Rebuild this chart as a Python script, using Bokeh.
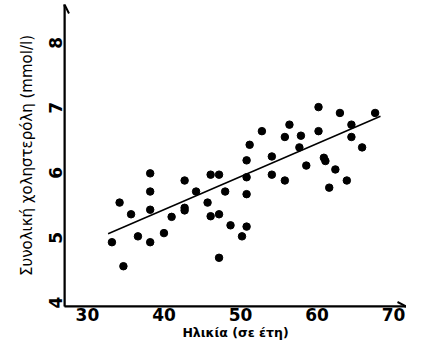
import math
from bokeh.plotting import figure
from bokeh.models import Arrow, OpenHead, Range1d, FixedTicker
from bokeh.embed import file_html
from bokeh.resources import INLINE

# Data
age = [33.2, 34.2, 34.7, 35.7, 36.6, 38.2, 38.2, 38.2, 38.2, 40.0,
       41.0, 42.7, 42.7, 42.7, 44.2, 45.7, 46.1, 46.1, 47.2, 47.2,
       47.2, 48.0, 48.7, 50.2, 50.8, 50.8, 50.8, 50.8, 51.2, 52.8,
       54.1, 54.1, 55.8, 55.8, 56.4, 57.9, 57.7, 58.6, 60.2, 60.2,
       60.9, 61.1, 61.6, 62.4, 63.0, 63.9, 64.5, 64.5, 65.9, 67.6]
chol = [4.84, 5.45, 4.47, 5.27, 4.93, 5.90, 5.62, 5.34, 4.84, 4.98,
        5.23, 5.79, 5.37, 5.33, 5.62, 5.45, 5.88, 5.24, 5.88, 5.27,
        4.60, 5.62, 5.10, 4.93, 5.08, 5.58, 5.84, 6.10, 6.34, 6.55,
        6.16, 5.88, 6.46, 5.79, 6.65, 6.48, 6.30, 6.02, 6.92, 6.55,
        6.14, 6.09, 5.68, 5.96, 6.83, 5.79, 6.65, 6.46, 6.30, 6.83]
trend_x = [32.7, 68.3]
trend_y = [4.97, 6.78]
x_ticks = [30, 40, 50, 60, 70]
y_ticks = [4, 5, 6, 7, 8]

x_lo, x_hi = 27.0, 71.7
y_lo, y_hi = 3.85, 8.5

p = figure(width=406, height=342, output_backend="svg", toolbar_location=None,
           x_range=Range1d(x_lo, x_hi), y_range=Range1d(y_lo, y_hi),
           min_border_left=64, min_border_right=0, min_border_top=4,
           min_border_bottom=0)
p.outline_line_color = None
p.grid.visible = False
p.background_fill_color = "white"
p.border_fill_color = "white"

for ax in (p.xaxis[0], p.yaxis[0]):
    ax.axis_line_width = 2
    ax.axis_line_color = "black"
    ax.major_tick_line_color = None
    ax.minor_tick_line_color = None
    ax.major_tick_out = 0
    ax.minor_tick_out = 0
    ax.major_label_text_font = "DejaVu Sans"
    ax.major_label_text_font_style = "bold"
    ax.major_label_text_font_size = "17px"
    ax.major_label_text_color = "black"
    ax.major_label_text_line_height = 0.9
    ax.axis_label_text_color = "black"
    ax.axis_label_text_font = "DejaVu Sans"
    ax.axis_label_text_line_height = 0.9

p.xaxis.ticker = FixedTicker(ticks=x_ticks)
p.yaxis.ticker = FixedTicker(ticks=y_ticks)
p.yaxis.major_label_orientation = math.pi / 2

p.xaxis.axis_label = "Ηλικία (σε έτη)"
p.xaxis.axis_label_text_font_style = "bold"
p.xaxis.axis_label_text_font_size = "12.5px"
p.xaxis.axis_label_standoff = 1
p.xaxis.major_label_standoff = 1

p.yaxis.axis_label = "Συνολική χοληστερόλη (mmol/l)"
p.yaxis.axis_label_text_font_style = "normal"
p.yaxis.axis_label_text_font_size = "15px"
p.yaxis.axis_label_standoff = 4
p.yaxis.major_label_standoff = 9

p.line(trend_x, trend_y, line_color="black", line_width=1.5)
p.scatter(age, chol, size=7.5, color="black")

p.add_layout(Arrow(x_start=x_lo, y_start=y_lo, x_end=x_hi, y_end=y_lo,
                   line_color="black", line_width=2,
                   end=OpenHead(size=9, line_width=2, line_color="black")))
p.add_layout(Arrow(x_start=x_lo, y_start=y_lo, x_end=x_lo, y_end=y_hi,
                   line_color="black", line_width=2,
                   end=OpenHead(size=9, line_width=2, line_color="black")))

open("out.html", "w").write(file_html(p, INLINE))
